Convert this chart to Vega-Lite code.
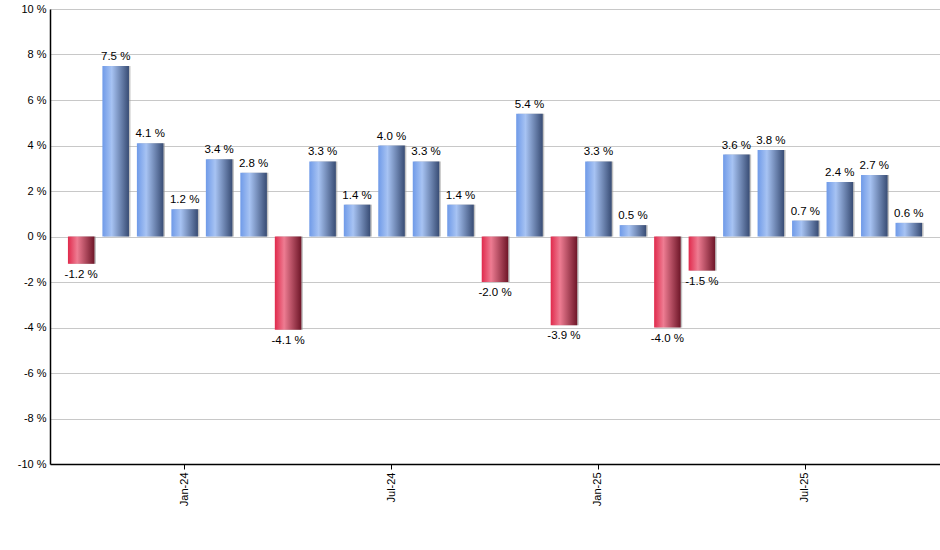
{
  "$schema": "https://vega.github.io/schema/vega-lite/v6.json",
  "width": 890,
  "height": 455,
  "autosize": {"type": "none"},
  "padding": {"left": 50, "top": 9, "right": 0, "bottom": 86},
  "background": "white",
  "config": {
    "view": {"stroke": null},
    "font": "Liberation Sans",
    "axis": {"labelFont": "Liberation Sans", "labelFontSize": 11, "labelColor": "#000000", "domainColor": "#000000", "domainWidth": 1.5, "tickColor": "#000000"}
  },
  "data": {
    "values": [
      {"month": "Oct-23", "value": -1.2},
      {"month": "Nov-23", "value": 7.5},
      {"month": "Dec-23", "value": 4.1},
      {"month": "Jan-24", "value": 1.2},
      {"month": "Feb-24", "value": 3.4},
      {"month": "Mar-24", "value": 2.8},
      {"month": "Apr-24", "value": -4.1},
      {"month": "May-24", "value": 3.3},
      {"month": "Jun-24", "value": 1.4},
      {"month": "Jul-24", "value": 4.0},
      {"month": "Aug-24", "value": 3.3},
      {"month": "Sep-24", "value": 1.4},
      {"month": "Oct-24", "value": -2.0},
      {"month": "Nov-24", "value": 5.4},
      {"month": "Dec-24", "value": -3.9},
      {"month": "Jan-25", "value": 3.3},
      {"month": "Feb-25", "value": 0.5},
      {"month": "Mar-25", "value": -4.0},
      {"month": "Apr-25", "value": -1.5},
      {"month": "May-25", "value": 3.6},
      {"month": "Jun-25", "value": 3.8},
      {"month": "Jul-25", "value": 0.7},
      {"month": "Aug-25", "value": 2.4},
      {"month": "Sep-25", "value": 2.7},
      {"month": "Oct-25", "value": 0.6}
    ]
  },
  "transform": [
    {"calculate": "replace(format(datum.value, '.1f'), '\u2212', '-') + ' %'", "as": "label"}
  ],
  "encoding": {
    "x": {
      "field": "month", "type": "ordinal",
      "scale": {"domain": ["Oct-23","Nov-23","Dec-23","Jan-24","Feb-24","Mar-24","Apr-24","May-24","Jun-24","Jul-24","Aug-24","Sep-24","Oct-24","Nov-24","Dec-24","Jan-25","Feb-25","Mar-25","Apr-25","May-25","Jun-25","Jul-25","Aug-25","Sep-25","Oct-25"], "paddingInner": 0.23, "paddingOuter": 0.52},
      "axis": {"title": null, "values": ["Jan-24", "Jul-24", "Jan-25", "Jul-25"], "labelAngle": -90, "tickSize": 5, "grid": false, "labelPadding": 3}
    },
    "y": {
      "field": "value", "type": "quantitative",
      "scale": {"domain": [-10, 10], "nice": false},
      "axis": {"title": null, "values": [-10, -8, -6, -4, -2, 0, 2, 4, 6, 8, 10], "labelExpr": "datum.value + ' %'", "ticks": false, "labelPadding": 4, "gridColor": "#c8c8c8", "gridWidth": 1}
    }
  },
  "layer": [
    {
      "mark": {"type": "bar", "xOffset": 1.5, "color": "#9a9a9a", "opacity": 0.6},
      "encoding": {}
    },
    {
      "transform": [{"filter": "datum.value >= 0"}],
      "mark": {"type": "bar", "color": {"gradient": "linear", "x1": 0, "y1": 0, "x2": 1, "y2": 0, "stops": [{"offset": 0, "color": "#6f9ae8"}, {"offset": 0.35, "color": "#a7c3f3"}, {"offset": 1, "color": "#384c74"}]}},
      "encoding": {}
    },
    {
      "transform": [{"filter": "datum.value < 0"}],
      "mark": {"type": "bar", "color": {"gradient": "linear", "x1": 0, "y1": 0, "x2": 1, "y2": 0, "stops": [{"offset": 0, "color": "#e02a4c"}, {"offset": 0.35, "color": "#ee7c92"}, {"offset": 1, "color": "#6e1628"}]}},
      "encoding": {}
    },
    {
      "transform": [{"filter": "datum.value >= 0"}],
      "mark": {"type": "text", "baseline": "bottom", "dy": -4, "fontSize": 11.5, "color": "#000000"},
      "encoding": {"text": {"field": "label"}}
    },
    {
      "transform": [{"filter": "datum.value < 0"}],
      "mark": {"type": "text", "baseline": "top", "dy": 5, "fontSize": 11.5, "color": "#000000"},
      "encoding": {"text": {"field": "label"}}
    }
  ]
}
